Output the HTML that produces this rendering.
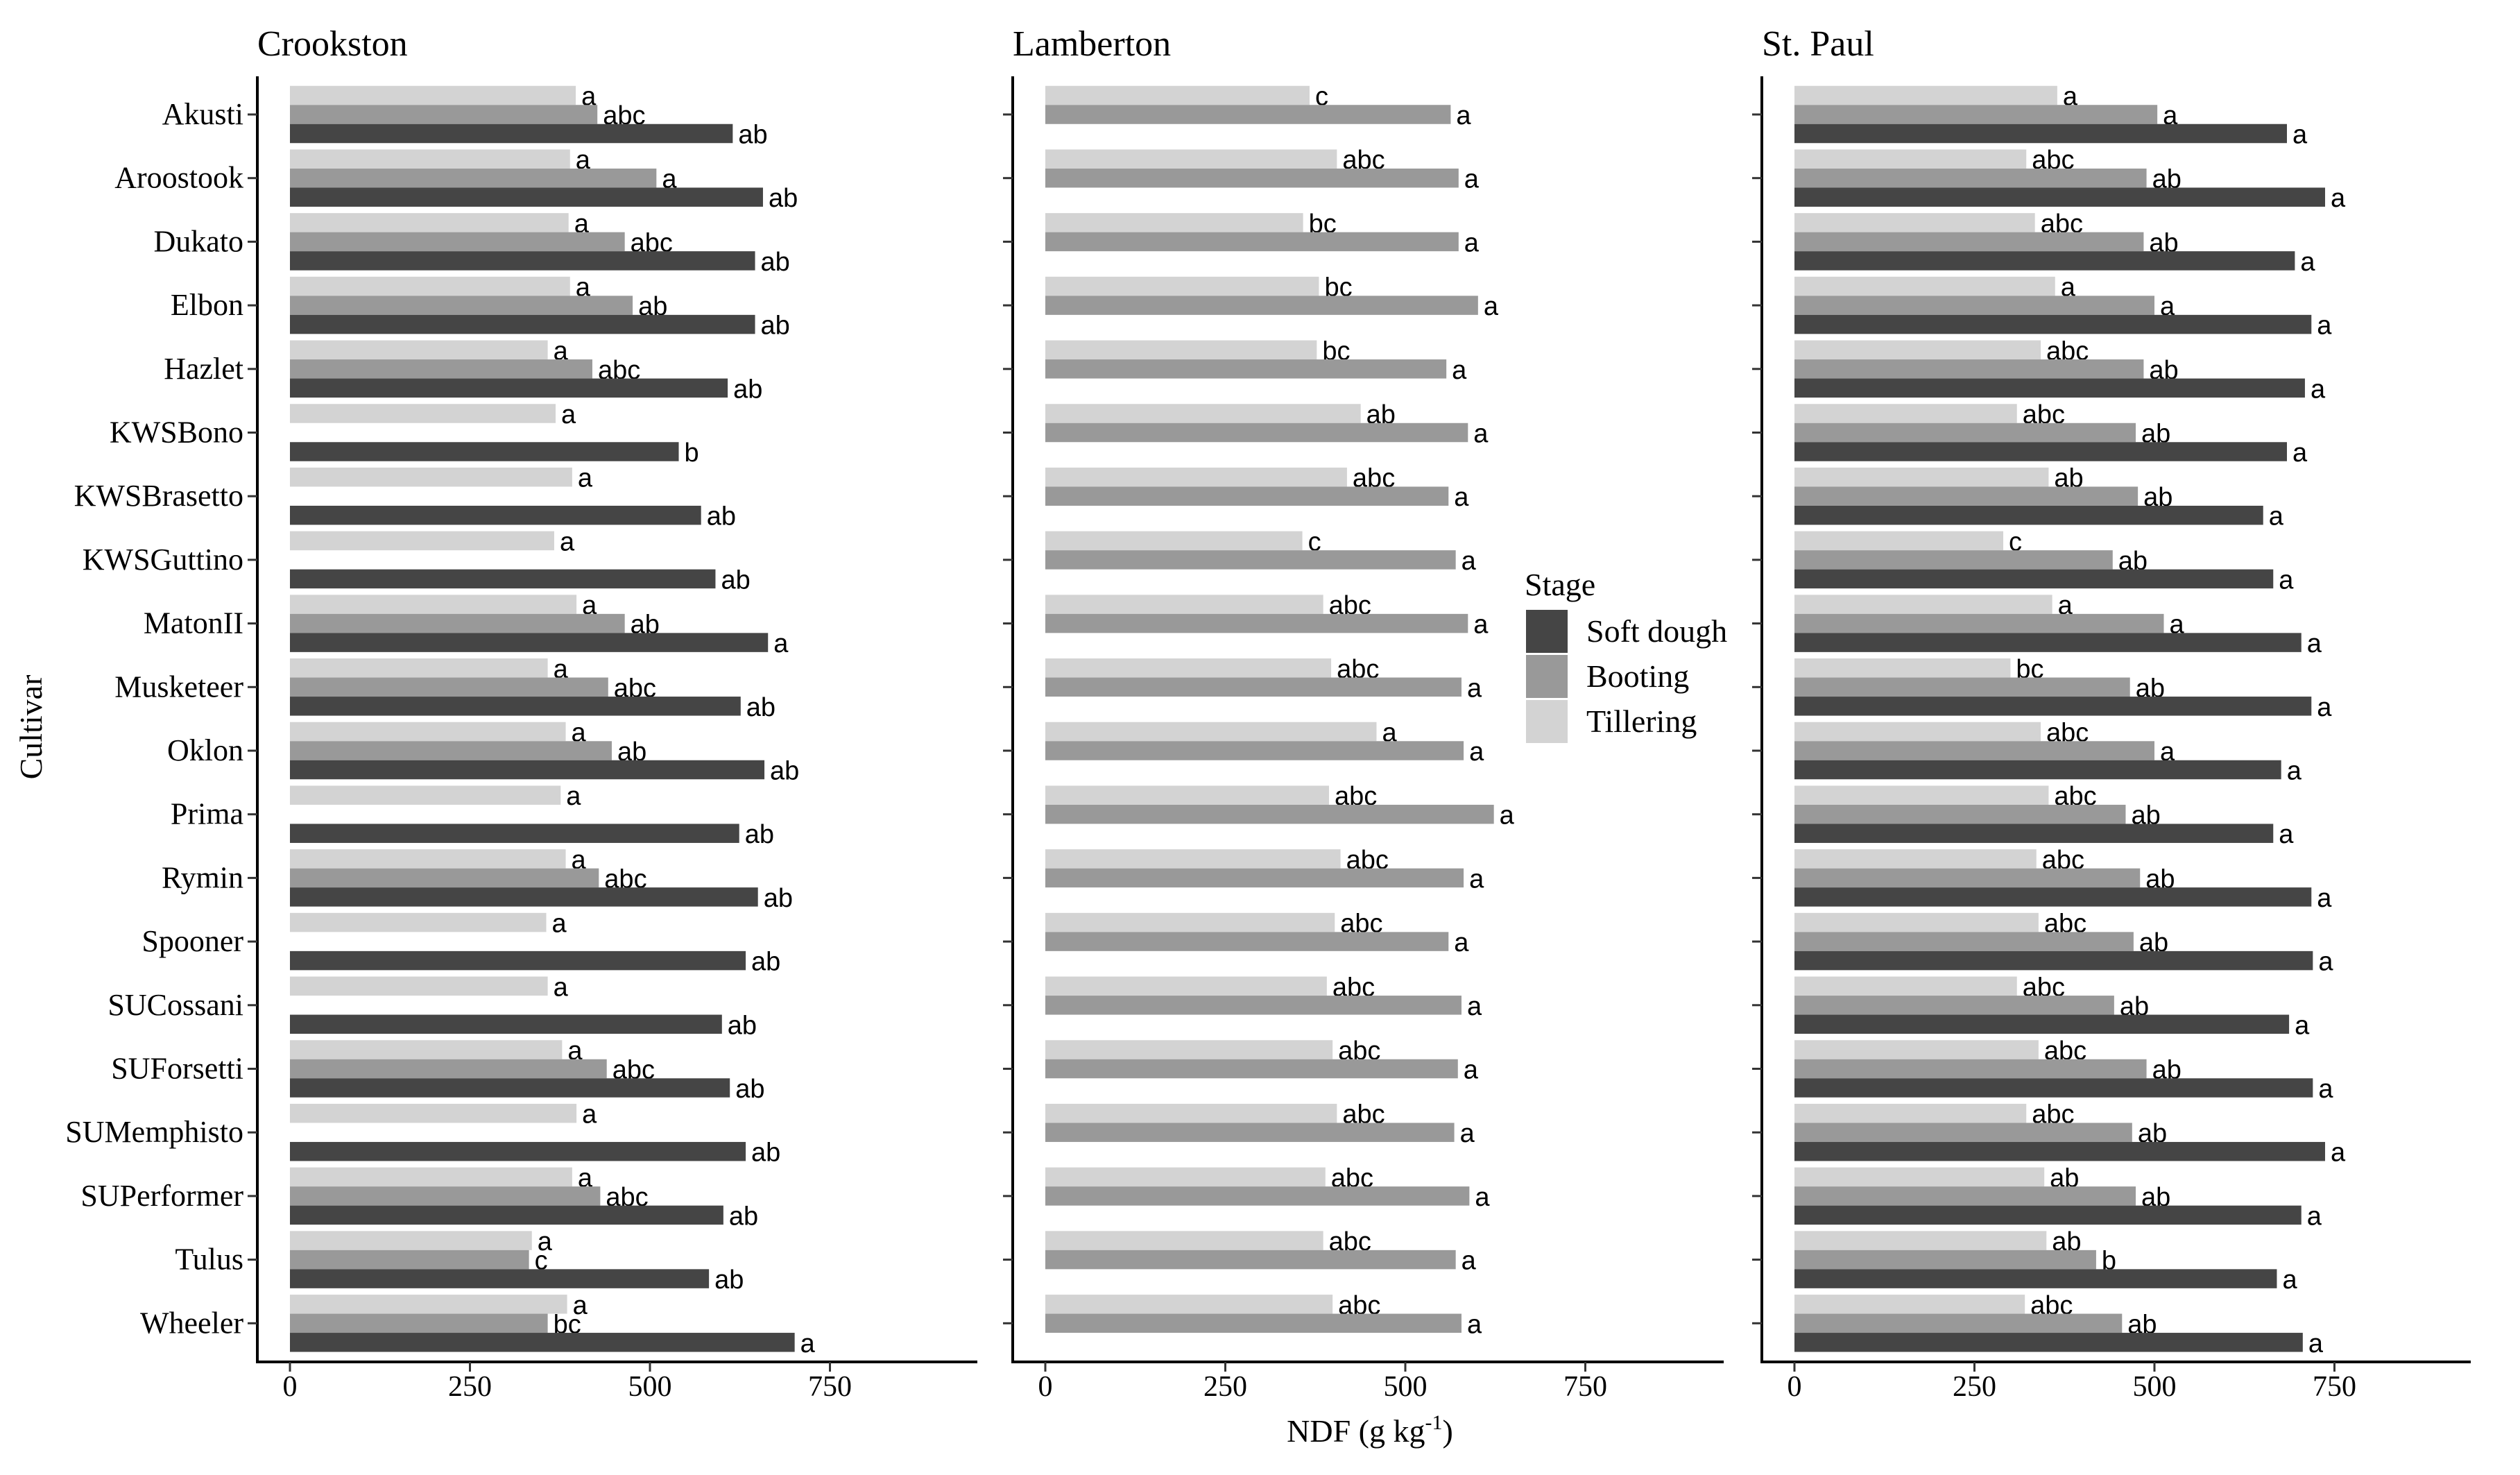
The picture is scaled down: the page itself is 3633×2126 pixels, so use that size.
<!DOCTYPE html>
<html><head><meta charset="utf-8"><style>
html,body{margin:0;padding:0;background:#fff;}
svg{display:block;}
</style></head><body>
<svg id="chart" xmlns="http://www.w3.org/2000/svg" width="3633" height="2126" viewBox="0 0 3633 2126"></svg>
<script>
const cultivars = ["Akusti","Aroostook","Dukato","Elbon","Hazlet","KWSBono","KWSBrasetto","KWSGuttino","MatonII","Musketeer","Oklon","Prima","Rymin","Spooner","SUCossani","SUForsetti","SUMemphisto","SUPerformer","Tulus","Wheeler"];
const stages = ["Tillering","Booting","Soft dough"];
const xTicks = [0,250,500,750];
// Crookston
const crTill = [397,389,387,389,358,369,392,367,398,358,383,376,383,356,358,378,398,392,336,385];
const crBoot = [427,509,465,476,420,null,null,null,465,442,447,null,429,null,null,440,null,431,332,358];
const crSoft = [615,657,646,646,608,540,571,591,664,626,659,624,650,633,600,611,633,602,582,701];
const crTillL = ["a","a","a","a","a","a","a","a","a","a","a","a","a","a","a","a","a","a","a","a"];
const crBootL = ["abc","a","abc","ab","abc","","","","ab","abc","ab","","abc","","","abc","","abc","c","bc"];
const crSoftL = ["ab","ab","ab","ab","ab","b","ab","ab","a","ab","ab","ab","ab","ab","ab","ab","ab","ab","ab","a"];
// Lamberton
const laTill = [367,405,358,380,377,438,419,357,386,397,460,394,410,402,391,399,405,389,386,399];
const laBoot = [563,574,574,601,557,587,560,570,587,578,581,623,581,560,578,573,568,589,570,578];
const laSoft = [null,null,null,null,null,null,null,null,null,null,null,null,null,null,null,null,null,null,null,null];
const laTillL = ["c","abc","bc","bc","bc","ab","abc","c","abc","abc","a","abc","abc","abc","abc","abc","abc","abc","abc","abc"];
const laBootL = ["a","a","a","a","a","a","a","a","a","a","a","a","a","a","a","a","a","a","a","a"];
const laSoftL = ["","","","","","","","","","","","","","","","","","","",""];
// St. Paul
const spTill = [365,322,334,362,342,309,353,290,358,300,342,353,336,339,309,339,322,347,350,320];
const spBoot = [504,489,485,500,485,474,477,442,513,466,500,460,480,471,444,489,469,474,419,455];
const spSoft = [684,737,695,718,709,684,651,665,704,718,676,665,718,720,687,720,737,704,670,706];
const spTillL = ["a","abc","abc","a","abc","abc","ab","c","a","bc","abc","abc","abc","abc","abc","abc","abc","ab","ab","abc"];
const spBootL = ["a","ab","ab","a","ab","ab","ab","ab","a","ab","a","ab","ab","ab","ab","ab","ab","ab","b","ab"];
const spSoftL = ["a","a","a","a","a","a","a","a","a","a","a","a","a","a","a","a","a","a","a","a"];

const NS="http://www.w3.org/2000/svg";
const svg=document.getElementById('chart');
function mk(tag,attrs,parent){const e=document.createElementNS(NS,tag);for(const k in attrs)e.setAttribute(k,attrs[k]);(parent||svg).appendChild(e);return e;}
const serif='"Liberation Serif", serif', sans='"Liberation Sans", sans-serif';
const colors=["#d3d3d3","#999999","#454545"];
const yFirst=165, yStep=91.7, slotH=27.5;
const axisBottom=1963, axisTop=110;
const unit=1.038;
function yCenter(i){return yFirst+i*yStep;}

const panels=[
 {name:"Crookston",axis:371,right:1409,series:[crTill,crBoot,crSoft],labels:[crTillL,crBootL,crSoftL]},
 {name:"Lamberton",axis:1460,right:2485,series:[laTill,laBoot,laSoft],labels:[laTillL,laBootL,laSoftL]},
 {name:"St. Paul",axis:2540,right:3562,series:[spTill,spBoot,spSoft],labels:[spTillL,spBootL,spSoftL]}
];

panels.forEach((p,pi)=>{
  const g=mk('g',{});
  
  
  const x0=p.axis+47;
  const xs=v=>x0+v*unit;
  const t=mk('text',{x:p.axis,y:80,'font-family':serif,'font-size':52,fill:'#000'},g);
  t.textContent=p.name;
  
  
  p.series.forEach((arr,si)=>{
    arr.forEach((v,ci)=>{
      if(v===null||v===undefined)return;
      const top=yCenter(ci)-1.5*slotH+si*slotH;
      const r=mk('rect',{x:xs(0),y:top,width:xs(v)-xs(0),height:slotH,fill:colors[si]},g);
      
      
      const lab=p.labels[si][ci];
      if(lab){
        const tx=mk('text',{x:xs(v)+8,y:top+slotH/2+14,'font-family':sans,'font-size':38,fill:'#000'},g);
        tx.textContent=lab;
        
        
      }
    });
  });
  const ya=mk('line',{x1:p.axis,y1:axisTop,x2:p.axis,y2:axisBottom+2,stroke:'#000','stroke-width':4},g);
  
  
  const xa=mk('line',{x1:p.axis-2,y1:axisBottom,x2:p.right,y2:axisBottom,stroke:'#000','stroke-width':4},g);
  
  
  cultivars.forEach((c,ci)=>{
    const tk=mk('line',{x1:p.axis-14,y1:yCenter(ci),x2:p.axis,y2:yCenter(ci),stroke:'#333','stroke-width':3},g);
    
    
    if(pi===0){
      const tl=mk('text',{x:p.axis-20,y:yCenter(ci)+14,'text-anchor':'end','font-family':serif,'font-size':44,fill:'#000'},g);
      tl.textContent=c;
      
      
    }
  });
  xTicks.forEach(v=>{
    const tk=mk('line',{x1:xs(v),y1:axisBottom,x2:xs(v),y2:axisBottom+14,stroke:'#333','stroke-width':3},g);
    
    
    const tl=mk('text',{x:xs(v),y:2012,'text-anchor':'middle','font-family':serif,'font-size':42,fill:'#000'},g);
    tl.textContent=v;
    
    
  });
});

const yt=mk('text',{x:0,y:0,transform:'translate(60,1048) rotate(-90)','text-anchor':'middle','font-family':serif,'font-size':46,fill:'#000'});
yt.textContent='Cultivar';


const xt=mk('text',{x:1975,y:2078,'text-anchor':'middle','font-family':serif,'font-size':46,fill:'#000'});
xt.innerHTML='NDF (g kg<tspan dy="-18" font-size="30">-1</tspan><tspan dy="18">)</tspan>';



const lg=mk('g',{});


const lt=mk('text',{x:2198,y:858,'font-family':serif,'font-size':46,fill:'#000'},lg);
lt.textContent='Stage';


const legOrder=[2,1,0];
legOrder.forEach((si,k)=>{
  const top=879+k*65;
  const r=mk('rect',{x:2200,y:top,width:60,height:62,fill:colors[si]},lg);
  
  
  const tx=mk('text',{x:2287,y:top+46,'font-family':serif,'font-size':46,fill:'#000'},lg);
  tx.textContent=stages[si];
  
  
});
</script>
</body></html>
